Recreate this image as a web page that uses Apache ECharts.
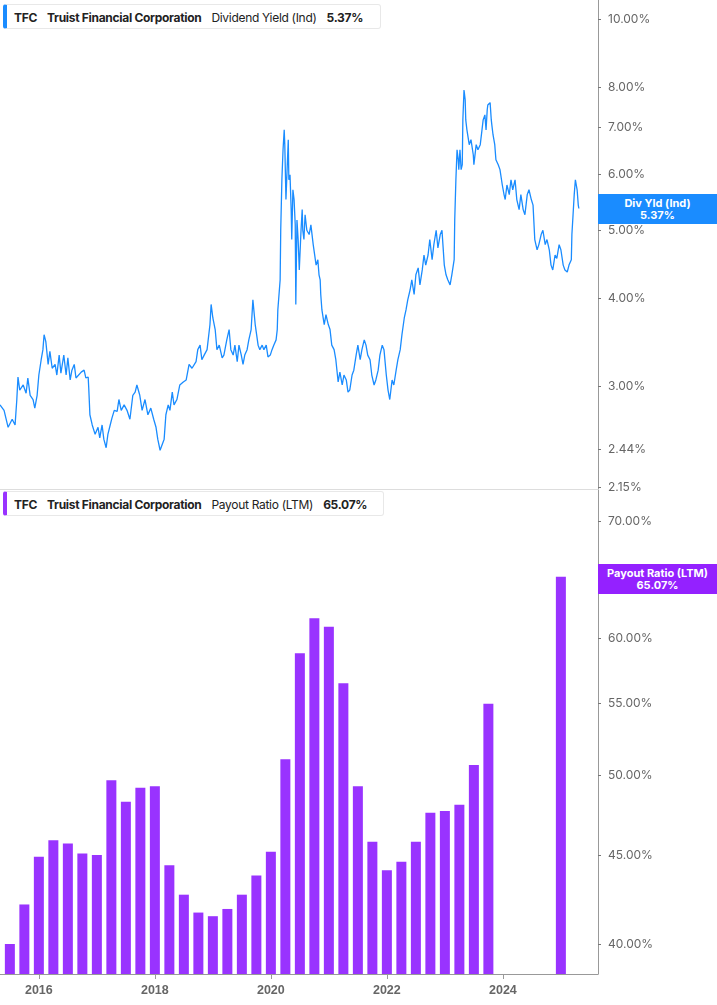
<!DOCTYPE html>
<html><head><meta charset="utf-8">
<script src="https://cdn.jsdelivr.net/npm/echarts@6/dist/echarts.min.js"></script>
<style>
html,body{margin:0;padding:0;background:#fff;font-family:Inter,"Noto Sans",sans-serif}
#c{width:717px;height:1005px}
.leg{position:absolute;background:#fff;border:1px solid #e8e8e8;border-left:4px solid;border-radius:3px;font-size:12px;letter-spacing:-0.3px;color:#222;height:25px;line-height:25px;padding-left:7px;box-sizing:border-box;white-space:nowrap}
.leg span{margin-right:10px}
.leg b{font-weight:700}
.tag{position:absolute;left:598px;width:119px;color:#fff;font-weight:700;font-size:11px;line-height:12px;text-align:center;padding:3px 0}
</style></head><body>
<div id="c"></div>
<div class="leg" style="left:3px;top:4px;width:378px;border-left-color:#1a8cff"><span><b>TFC</b></span><span><b>Truist Financial Corporation</b></span><span>Dividend Yield (Ind)</span><b>5.37%</b></div>
<div class="leg" style="left:3px;top:491px;width:381px;border-left-color:#9933ff"><span><b>TFC</b></span><span><b>Truist Financial Corporation</b></span><span>Payout Ratio (LTM)</span><b>65.07%</b></div>
<div class="tag" style="top:194px;background:#1a8cff">Div Yld (Ind)<br>5.37%</div>
<div class="tag" style="top:564px;background:#9421ff">Payout Ratio (LTM)<br>65.07%</div>
<script>
const yieldDates=[2015.33,2015.40,2015.47,2015.54,2015.59,2015.62,2015.64,2015.67,2015.73,2015.78,2015.81,2015.85,2015.90,2015.93,2015.97,2016.00,2016.04,2016.07,2016.09,2016.12,2016.16,2016.19,2016.23,2016.28,2016.31,2016.35,2016.38,2016.43,2016.47,2016.50,2016.54,2016.57,2016.61,2016.64,2016.67,2016.73,2016.78,2016.81,2016.85,2016.86,2016.88,2016.92,2016.97,2017.02,2017.05,2017.09,2017.12,2017.16,2017.19,2017.23,2017.26,2017.30,2017.35,2017.38,2017.42,2017.47,2017.52,2017.57,2017.62,2017.66,2017.69,2017.74,2017.78,2017.83,2017.88,2017.93,2017.98,2018.02,2018.05,2018.09,2018.12,2018.16,2018.19,2018.23,2018.26,2018.30,2018.33,2018.38,2018.43,2018.49,2018.54,2018.59,2018.64,2018.67,2018.71,2018.74,2018.78,2018.81,2018.85,2018.90,2018.95,2018.97,2019.00,2019.04,2019.07,2019.11,2019.16,2019.19,2019.24,2019.28,2019.31,2019.35,2019.38,2019.42,2019.45,2019.49,2019.52,2019.55,2019.59,2019.62,2019.66,2019.69,2019.73,2019.78,2019.81,2019.85,2019.88,2019.92,2019.95,2019.99,2020.02,2020.05,2020.09,2020.11,2020.12,2020.16,2020.17,2020.19,2020.21,2020.23,2020.24,2020.26,2020.28,2020.30,2020.31,2020.33,2020.35,2020.36,2020.38,2020.40,2020.42,2020.43,2020.45,2020.47,2020.49,2020.50,2020.52,2020.54,2020.55,2020.57,2020.59,2020.62,2020.66,2020.69,2020.73,2020.76,2020.78,2020.81,2020.83,2020.85,2020.86,2020.88,2020.92,2020.95,2020.99,2021.02,2021.05,2021.09,2021.12,2021.16,2021.19,2021.23,2021.26,2021.30,2021.33,2021.36,2021.40,2021.43,2021.47,2021.50,2021.54,2021.57,2021.61,2021.64,2021.67,2021.71,2021.74,2021.78,2021.81,2021.85,2021.88,2021.92,2021.95,2021.99,2022.02,2022.05,2022.09,2022.12,2022.16,2022.19,2022.23,2022.26,2022.30,2022.33,2022.36,2022.40,2022.43,2022.47,2022.50,2022.54,2022.57,2022.61,2022.64,2022.67,2022.71,2022.74,2022.78,2022.81,2022.85,2022.88,2022.92,2022.95,2022.99,2023.02,2023.05,2023.09,2023.12,2023.16,2023.17,2023.19,2023.21,2023.23,2023.24,2023.26,2023.28,2023.30,2023.31,2023.33,2023.35,2023.36,2023.38,2023.42,2023.45,2023.49,2023.50,2023.54,2023.57,2023.61,2023.64,2023.66,2023.69,2023.71,2023.73,2023.74,2023.78,2023.80,2023.81,2023.83,2023.86,2023.88,2023.92,2023.95,2023.99,2024.02,2024.04,2024.07,2024.11,2024.14,2024.17,2024.21,2024.24,2024.28,2024.31,2024.35,2024.38,2024.42,2024.45,2024.49,2024.52,2024.55,2024.59,2024.62,2024.66,2024.69,2024.73,2024.76,2024.80,2024.83,2024.86,2024.90,2024.93,2024.97,2025.00,2025.04,2025.07,2025.11,2025.14,2025.18,2025.19,2025.21,2025.23,2025.25,2025.26,2025.28,2025.30,2025.31];
const yieldValues=[2.82,2.77,2.62,2.69,2.64,2.87,3.09,2.96,3.01,2.93,3.08,2.91,2.87,2.79,2.91,3.11,3.27,3.38,3.55,3.47,3.22,3.36,3.18,3.22,3.11,3.32,3.13,3.32,3.11,3.29,3.06,3.16,3.22,3.08,3.08,3.14,3.16,3.08,3.09,2.98,2.73,2.64,2.56,2.62,2.53,2.64,2.52,2.45,2.56,2.64,2.70,2.77,2.76,2.87,2.77,2.82,2.77,2.69,2.91,2.94,3.01,2.91,2.77,2.87,2.73,2.79,2.69,2.62,2.52,2.43,2.44,2.52,2.73,2.82,2.77,2.94,2.82,2.87,3.01,3.04,3.06,3.22,3.18,3.16,3.25,3.38,3.43,3.27,3.32,3.38,3.67,3.92,3.75,3.61,3.38,3.43,3.29,3.32,3.49,3.61,3.38,3.32,3.43,3.25,3.43,3.32,3.22,3.32,3.38,3.49,3.61,3.98,3.67,3.43,3.38,3.43,3.38,3.43,3.30,3.32,3.38,3.43,3.49,3.61,3.85,4.25,5.00,5.90,6.51,6.95,6.62,5.53,6.10,6.73,5.90,6.00,5.35,4.85,5.71,5.53,5.09,3.92,5.17,4.85,4.39,4.39,5.00,5.35,5.00,4.85,5.26,5.00,4.93,5.09,4.77,4.77,4.46,4.54,4.32,4.25,4.05,3.85,3.67,3.79,3.67,3.61,3.43,3.38,3.27,3.04,3.14,3.01,3.11,3.06,2.94,2.96,3.11,3.16,3.32,3.43,3.27,3.38,3.49,3.43,3.32,3.27,3.11,3.01,3.06,3.16,3.32,3.43,3.38,3.11,2.96,2.87,3.06,3.01,3.16,3.27,3.38,3.55,3.75,3.85,3.98,4.11,4.25,4.05,4.32,4.42,4.18,4.39,4.61,4.46,4.61,4.85,4.54,4.77,5.00,4.72,4.93,5.00,4.46,4.32,4.25,4.18,4.32,4.54,5.17,5.90,6.51,6.30,6.10,6.51,6.10,6.20,7.18,7.92,7.67,7.18,6.95,6.62,6.73,6.40,6.20,6.62,6.51,6.62,6.95,7.18,7.30,6.95,7.42,7.54,7.60,7.18,7.06,6.84,6.62,6.30,6.20,6.10,5.80,5.62,5.53,5.80,5.62,5.90,5.71,5.90,5.53,5.35,5.62,5.35,5.26,5.62,5.71,5.53,5.43,4.85,4.69,4.77,4.93,5.00,4.77,4.85,4.69,4.46,4.39,4.61,4.56,4.77,4.69,4.46,4.39,4.36,4.46,4.54,4.93,5.26,5.62,5.90,5.90,5.71,5.43,5.37];
const payoutDates=[2015.50,2015.75,2016.00,2016.25,2016.50,2016.75,2017.00,2017.25,2017.50,2017.75,2018.00,2018.25,2018.50,2018.75,2019.00,2019.25,2019.50,2019.75,2020.00,2020.25,2020.50,2020.75,2021.00,2021.25,2021.50,2021.75,2022.00,2022.25,2022.50,2022.75,2023.00,2023.25,2023.50,2023.75,2025.00];
const payoutValues=[40.0,42.15,44.9,45.9,45.7,45.1,45.0,49.7,48.3,49.2,49.3,44.4,42.7,41.7,41.5,41.9,42.7,43.8,45.2,51.1,58.8,61.6,60.9,56.5,49.3,45.8,44.1,44.6,45.8,47.6,47.7,48.1,50.7,55.0,65.07];
const yieldTicks=[10,8,7,6,5,4,3,2.44,2.15];
const payoutTicks=[40,45,50,55,60,65,70];
const yearTicks=[2016,2018,2020,2022,2024];

const L=Math.log;
const chart=echarts.init(document.getElementById('c'),null,{renderer:'canvas'});
const xMin=2015.33,xMax=2025.64;
const lab={color:'#666',fontSize:12,fontFamily:'Inter, sans-serif',margin:10};
chart.setOption({
 animation:false,
 grid:[{left:0,right:119,top:0,height:489},{left:0,right:119,top:490,bottom:31}],
 xAxis:[
  {gridIndex:0,type:'value',min:xMin,max:xMax,axisLine:{show:true,lineStyle:{color:'#ddd'}},axisTick:{show:false},axisLabel:{show:false},splitLine:{show:false}},
  {gridIndex:1,type:'value',min:xMin,max:xMax,axisLine:{show:true,lineStyle:{color:'#999'}},
   axisTick:{show:true,customValues:yearTicks,length:5,lineStyle:{color:'#999'}},
   axisLabel:{customValues:yearTicks,formatter:v=>String(Math.round(v)),color:'#666',fontWeight:'bold',fontSize:12.5,margin:10},splitLine:{show:false}}
 ],
 yAxis:[
  {gridIndex:0,type:'value',position:'right',min:L(2.14),max:L(10.64),
   axisLine:{show:true,lineStyle:{color:'#999'}},
   axisTick:{show:true,customValues:yieldTicks.map(L),length:3,lineStyle:{color:'#777'}},
   axisLabel:Object.assign({customValues:yieldTicks.map(L),formatter:v=>Math.exp(v).toFixed(2)+'%'},lab),splitLine:{show:false}},
  {gridIndex:1,type:'value',position:'right',min:L(38.44),max:L(73.0),
   axisLine:{show:true,lineStyle:{color:'#999'}},
   axisTick:{show:true,customValues:payoutTicks.map(L),length:3,lineStyle:{color:'#777'}},
   axisLabel:Object.assign({customValues:payoutTicks.map(L),formatter:v=>Math.exp(v).toFixed(2)+'%'},lab),splitLine:{show:false}}
 ],
 series:[
  {type:'line',xAxisIndex:0,yAxisIndex:0,showSymbol:false,symbol:'none',
   lineStyle:{color:'#1a8cff',width:1.3},
   data:yieldDates.map((d,i)=>[d,L(yieldValues[i])])},
  {type:'bar',xAxisIndex:1,yAxisIndex:1,barWidth:10,
   itemStyle:{color:'#9933ff'},
   data:payoutDates.map((d,i)=>[d,L(payoutValues[i])])}
 ]
});
</script></body></html>
